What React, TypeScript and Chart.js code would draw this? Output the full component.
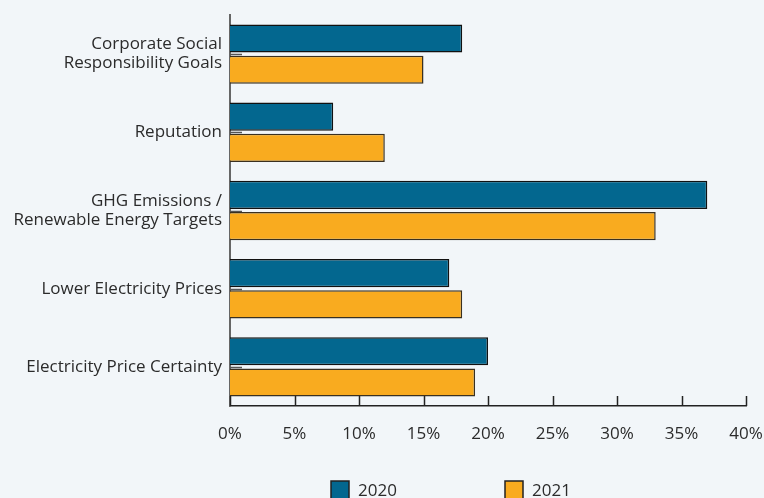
import React, { useEffect, useRef } from "react";
import { Chart, registerables } from "chart.js";

Chart.register(...registerables);

const categories: (string | string[])[] = [
  ["Corporate Social", "Responsibility Goals"],
  "Reputation",
  ["GHG Emissions /", "Renewable Energy Targets"],
  "Lower Electricity Prices",
  "Electricity Price Certainty",
];
const seriesLabels = ["2020", "2021"];
const values2020 = [18, 8, 37, 17, 20];
const values2021 = [15, 12, 33, 18, 19];
const xTickMax = 40;
const xTickStep = 5;

const BG = "#f2f6f9";
const BLUE = "#03678f";
const ORANGE = "#f9ab1f";
const FONT = "'Open Sans', 'DejaVu Sans', sans-serif";
const TEXT = "#2b2b2b";

const innerTicks = {
  id: "innerTicks",
  beforeDatasetsDraw(chart: any) {
    const { ctx, chartArea, scales } = chart;
    const x = scales.x;
    const y = scales.y;
    ctx.save();
    ctx.lineWidth = 1.5;
    ctx.strokeStyle = "#555";
    y.ticks.forEach((_t: any, i: number) => {
      const py = Math.round(y.getPixelForTick(i)) + 0.5;
      ctx.beginPath();
      ctx.moveTo(chartArea.left, py);
      ctx.lineTo(chartArea.left + 12, py);
      ctx.stroke();
    });
    ctx.strokeStyle = "#222";
    x.ticks.forEach((_t: any, i: number) => {
      const px = Math.round(x.getPixelForTick(i)) + 0.5;
      ctx.beginPath();
      ctx.moveTo(px, chartArea.bottom);
      ctx.lineTo(px, chartArea.bottom - 10);
      ctx.stroke();
    });
    ctx.restore();
  },
};

const customLegend = {
  id: "customLegend",
  afterDraw(chart: any) {
    const { ctx } = chart;
    const startX = 331;
    const step = 174;
    const cy = 490;
    const box = 18;
    ctx.save();
    ctx.font = `17px ${FONT}`;
    ctx.textBaseline = "middle";
    ctx.textAlign = "left";
    chart.data.datasets.forEach((ds: any, i: number) => {
      const bx = startX + i * step;
      ctx.fillStyle = ds.backgroundColor;
      ctx.fillRect(bx, cy - box / 2, box, box);
      ctx.lineWidth = 1.5;
      ctx.strokeStyle = "#222";
      ctx.strokeRect(bx, cy - box / 2, box, box);
      ctx.fillStyle = TEXT;
      ctx.fillText(ds.label, bx + box + 9, cy + 1);
    });
    ctx.restore();
  },
};

export default function App() {
  const canvasRef = useRef<HTMLCanvasElement | null>(null);

  useEffect(() => {
    if (!canvasRef.current) return;
    const chart = new Chart(canvasRef.current, {
      type: "bar",
      data: {
        labels: categories,
        datasets: [
          {
            label: seriesLabels[0],
            data: values2020,
            backgroundColor: BLUE,
            borderColor: "#111",
            borderWidth: 1.5,
          },
          {
            label: seriesLabels[1],
            data: values2021,
            backgroundColor: ORANGE,
            borderColor: "#3a3020",
            borderWidth: 1.5,
          },
        ],
      },
      options: {
        indexAxis: "y",
        animation: false,
        responsive: false,
        maintainAspectRatio: false,
        layout: { padding: { top: 15, right: 18, bottom: 52, left: 0 } },
        plugins: {
          legend: { display: false },
          tooltip: { enabled: false },
        },
        scales: {
          x: {
            min: 0,
            max: xTickMax,
            ticks: {
              stepSize: xTickStep,
              padding: 18,
              color: TEXT,
              font: { family: FONT, size: 17 },
              callback: (v: any) => `${v}%`,
            },
            grid: { display: false, drawTicks: false },
            border: { display: true, color: "#222", width: 1.5 },
            afterFit: (s: any) => {
              s.height = 40;
              s.paddingLeft = 0;
              s.paddingRight = 0;
            },
          },
          y: {
            ticks: {
              padding: 8,
              color: TEXT,
              font: { family: FONT, size: 17, lineHeight: 1.12 },
            },
            grid: { display: false, drawTicks: false },
            border: { display: true, color: "#666", width: 2 },
            afterFit: (s: any) => {
              s.width = 230;
              s.paddingTop = 0;
              s.paddingBottom = 0;
            },
          },
        },
      },
      plugins: [innerTicks, customLegend],
    });
    return () => chart.destroy();
  }, []);

  return (
    <div
      style={{
        position: "absolute",
        left: 0,
        top: 0,
        width: 764,
        height: 498,
        background: BG,
      }}
    >
      <canvas ref={canvasRef} width={764} height={498} style={{ display: "block" }} />
    </div>
  );
}
